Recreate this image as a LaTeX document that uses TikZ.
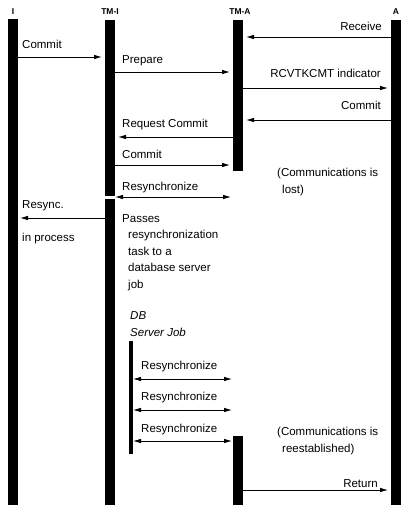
\documentclass[tikz,border=0pt]{standalone}
\usepackage{fontspec}
\setmainfont{Liberation Sans}
\usepackage{tikz}
\usetikzlibrary{arrows.meta}
\tikzstyle{life} = [rectangle,fill=black,inner sep=0pt,outer sep=0pt,minimum width=10pt,anchor=north]
\tikzstyle{head} = [font=\bfseries\fontsize{8.5}{10}\selectfont,inner sep=0pt]
\tikzstyle{txt} = [font=\fontsize{11.5}{16.5}\selectfont,inner sep=0pt,anchor=base west,align=left]
\tikzstyle{txtr} = [txt,anchor=base east,align=right]
\tikzstyle{line} = [line width=0.8pt,-{Latex[length=8pt,width=4.5pt]}]
\tikzstyle{both} = [line width=0.8pt,{Latex[length=8pt,width=4.5pt]}-{Latex[length=8pt,width=4.5pt]}]

\begin{document}
\begin{tikzpicture}[x=1pt,y=-1pt]
        \useasboundingbox (0,0) rectangle (412,512);
        % lifelines
        \node[life,minimum height=486pt] (i) at (13,19) {};
        \node[life,minimum height=176pt] (tmi) at (110,20) {};
        \node[life,minimum height=306pt] (tmi2) at (110,199) {};
        \node[life,minimum height=151pt] (tma) at (238,20) {};
        \node[life,minimum height=69pt] (tma2) at (238,436) {};
        \node[life,minimum height=485pt] (a) at (396,20) {};
        \node[life,minimum width=4pt,minimum height=113pt] (db) at (131,341) {};
        \node[head] (ihead) at (13,12) {I};
        \node[head] (tmihead) at (110,12) {TM-I};
        \node[head] (tmahead) at (240,12) {TM-A};
        \node[head] (ahead) at (396,12) {A};
        % messages
        \draw[line,shorten >=3pt] (i.east |- 0,57) -- (tmi.west |- 0,57);
        \node[txt] (commiti) at (22,48) {Commit};
        \draw[line,shorten >=3pt] (tmi.east |- 0,72) -- (tma.west |- 0,72);
        \node[txt] (prepare) at (122,63) {Prepare};
        \draw[line,shorten >=3pt] (a.west |- 0,37) -- (tma.east |- 0,37);
        \node[txtr] (receive) at (382,30) {Receive};
        \draw[line,shorten >=3pt] (tma.east |- 0,88) -- (a.west |- 0,88);
        \node[txtr] (rcvtkcmt) at (381,77) {RCVTKCMT indicator};
        \draw[line,shorten >=3pt] (a.west |- 0,120) -- (tma.east |- 0,120);
        \node[txtr] (commita) at (381,109) {Commit};
        \draw[line,shorten >=3pt] (tma.west |- 0,137) -- (tmi.east |- 0,137);
        \node[txt] (request) at (122,127) {Request Commit};
        \draw[line,shorten >=3pt] (tmi.east |- 0,165) -- (tma.west |- 0,165);
        \node[txt] (committmi) at (122,158) {Commit};
        \draw[both,shorten >=2pt] (tmi.east |- 0,197) -- (tma.west |- 0,197);
        \node[txt] (resync) at (122,190) {Resynchronize};
        \node[txt] (lost) at (277,193) {(Communications is\\\hspace*{5pt}lost)};
        % resync in process
        \draw[line,shorten >=2pt] (tmi2.west |- 0,218) -- (i.east |- 0,218);
        \node[txt] (resynci) at (22,208) {Resync.};
        \node[txt] (inproc) at (22,241) {in process};
        \node[txt] (passes) at (122,288) {Passes\\\hspace*{6pt}resynchronization\\\hspace*{6pt}task to a\\\hspace*{6pt}database server\\\hspace*{6pt}job};
        % server job
        \node[txt,font=\itshape\fontsize{11.5}{16.5}\selectfont] (dbjob) at (130,336) {DB\\Server Job};
        \draw[both,shorten >=1pt] (db.east |- 0,379) -- (tma.west |- 0,379);
        \node[txt] (resync1) at (141,369) {Resynchronize};
        \draw[both,shorten >=1pt] (db.east |- 0,410) -- (tma.west |- 0,410);
        \node[txt] (resync2) at (141,400) {Resynchronize};
        \draw[both,shorten >=1pt] (db.east |- 0,441) -- (tma2.west |- 0,441);
        \node[txt] (resync3) at (141,432) {Resynchronize};
        \node[txt] (reest) at (277,452) {(Communications is\\\hspace*{5pt}reestablished)};
        \draw[line,shorten >=3pt] (tma2.east |- 0,490) -- (a.west |- 0,490);
        \node[txtr] (return) at (378,487) {Return};
\end{tikzpicture}
\end{document}
